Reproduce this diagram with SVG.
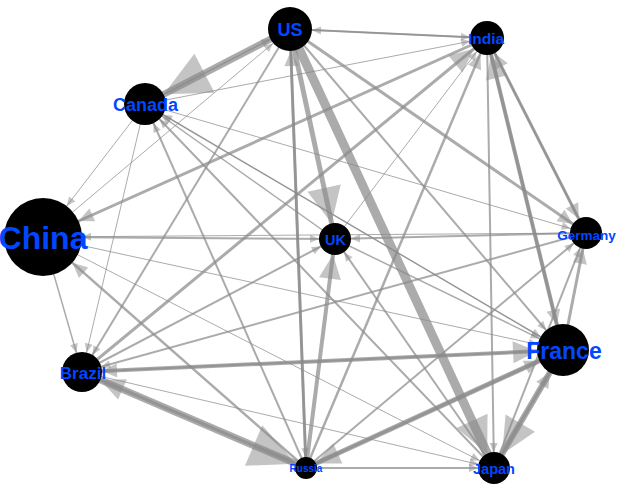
<svg xmlns="http://www.w3.org/2000/svg" width="625" height="495" viewBox="0 0 625 495">
<style>
.e{stroke:#8a8a8a;stroke-opacity:0.72;fill:none;stroke-linecap:butt}
.ah{fill:#8a8a8a;fill-opacity:0.5;stroke:none}
.n{fill:#000}
.l{font-family:"Liberation Sans",Arial,sans-serif;font-weight:bold;fill:#0047ff;text-anchor:middle}
</style>
<defs>
<marker id="s22" markerUnits="userSpaceOnUse" orient="auto" refX="22" refY="0" markerWidth="60" markerHeight="60" overflow="visible"><path class="ah" d="M0,0L-9,-4L-9,4Z"/></marker>
<marker id="m22" markerUnits="userSpaceOnUse" orient="auto" refX="22" refY="0" markerWidth="60" markerHeight="60" overflow="visible"><path class="ah" d="M0,0L-15,-7L-15,7Z"/></marker>
<marker id="s17" markerUnits="userSpaceOnUse" orient="auto" refX="17" refY="0" markerWidth="60" markerHeight="60" overflow="visible"><path class="ah" d="M0,0L-9,-4L-9,4Z"/></marker>
<marker id="m17" markerUnits="userSpaceOnUse" orient="auto" refX="17" refY="0" markerWidth="60" markerHeight="60" overflow="visible"><path class="ah" d="M0,0L-15,-7L-15,7Z"/></marker>
<marker id="l17" markerUnits="userSpaceOnUse" orient="auto" refX="17" refY="0" markerWidth="60" markerHeight="60" overflow="visible"><path class="ah" d="M0,0L-24,-11L-24,11Z"/></marker>
<marker id="s21" markerUnits="userSpaceOnUse" orient="auto" refX="21" refY="0" markerWidth="60" markerHeight="60" overflow="visible"><path class="ah" d="M0,0L-9,-4L-9,4Z"/></marker>
<marker id="xxl21" markerUnits="userSpaceOnUse" orient="auto" refX="21" refY="0" markerWidth="60" markerHeight="60" overflow="visible"><path class="ah" d="M0,0L-46,-22L-46,22Z"/></marker>
<marker id="s39" markerUnits="userSpaceOnUse" orient="auto" refX="39" refY="0" markerWidth="60" markerHeight="60" overflow="visible"><path class="ah" d="M0,0L-9,-4L-9,4Z"/></marker>
<marker id="m39" markerUnits="userSpaceOnUse" orient="auto" refX="39" refY="0" markerWidth="60" markerHeight="60" overflow="visible"><path class="ah" d="M0,0L-15,-7L-15,7Z"/></marker>
<marker id="s16" markerUnits="userSpaceOnUse" orient="auto" refX="16" refY="0" markerWidth="60" markerHeight="60" overflow="visible"><path class="ah" d="M0,0L-9,-4L-9,4Z"/></marker>
<marker id="m16" markerUnits="userSpaceOnUse" orient="auto" refX="16" refY="0" markerWidth="60" markerHeight="60" overflow="visible"><path class="ah" d="M0,0L-15,-7L-15,7Z"/></marker>
<marker id="l16" markerUnits="userSpaceOnUse" orient="auto" refX="16" refY="0" markerWidth="60" markerHeight="60" overflow="visible"><path class="ah" d="M0,0L-24,-11L-24,11Z"/></marker>
<marker id="xl16" markerUnits="userSpaceOnUse" orient="auto" refX="16" refY="0" markerWidth="60" markerHeight="60" overflow="visible"><path class="ah" d="M0,0L-36,-17L-36,17Z"/></marker>
<marker id="s26" markerUnits="userSpaceOnUse" orient="auto" refX="26" refY="0" markerWidth="60" markerHeight="60" overflow="visible"><path class="ah" d="M0,0L-9,-4L-9,4Z"/></marker>
<marker id="m26" markerUnits="userSpaceOnUse" orient="auto" refX="26" refY="0" markerWidth="60" markerHeight="60" overflow="visible"><path class="ah" d="M0,0L-15,-7L-15,7Z"/></marker>
<marker id="l26" markerUnits="userSpaceOnUse" orient="auto" refX="26" refY="0" markerWidth="60" markerHeight="60" overflow="visible"><path class="ah" d="M0,0L-24,-11L-24,11Z"/></marker>
<marker id="s20" markerUnits="userSpaceOnUse" orient="auto" refX="20" refY="0" markerWidth="60" markerHeight="60" overflow="visible"><path class="ah" d="M0,0L-9,-4L-9,4Z"/></marker>
<marker id="m20" markerUnits="userSpaceOnUse" orient="auto" refX="20" refY="0" markerWidth="60" markerHeight="60" overflow="visible"><path class="ah" d="M0,0L-15,-7L-15,7Z"/></marker>
<marker id="l20" markerUnits="userSpaceOnUse" orient="auto" refX="20" refY="0" markerWidth="60" markerHeight="60" overflow="visible"><path class="ah" d="M0,0L-24,-11L-24,11Z"/></marker>
<marker id="s11" markerUnits="userSpaceOnUse" orient="auto" refX="11" refY="0" markerWidth="60" markerHeight="60" overflow="visible"><path class="ah" d="M0,0L-9,-4L-9,4Z"/></marker>
<marker id="l11" markerUnits="userSpaceOnUse" orient="auto" refX="11" refY="0" markerWidth="60" markerHeight="60" overflow="visible"><path class="ah" d="M0,0L-24,-11L-24,11Z"/></marker>
<marker id="xxl11" markerUnits="userSpaceOnUse" orient="auto" refX="11" refY="0" markerWidth="60" markerHeight="60" overflow="visible"><path class="ah" d="M0,0L-46,-22L-46,22Z"/></marker>
</defs>
<rect width="625" height="495" fill="#fff"/>
<g id="edges">
<line class="e" x1="290" y1="29" x2="145" y2="104" stroke-width="7" marker-end="url(#xxl21)"/>
<line class="e" x1="145" y1="104" x2="290" y2="29" stroke-width="1.5" marker-end="url(#s22)"/>
<line class="e" x1="290" y1="29" x2="487" y2="38" stroke-width="2" marker-end="url(#s17)"/>
<line class="e" x1="487" y1="38" x2="290" y2="29" stroke-width="1.5" marker-end="url(#s22)"/>
<line class="e" x1="43" y1="237" x2="290" y2="29" stroke-width="1" marker-end="url(#s22)"/>
<line class="e" x1="290" y1="29" x2="335" y2="239" stroke-width="5" marker-end="url(#xl16)"/>
<line class="e" x1="306" y1="468" x2="290" y2="29" stroke-width="3" marker-end="url(#m22)"/>
<line class="e" x1="290" y1="29" x2="494" y2="468" stroke-width="9" marker-end="url(#xl16)"/>
<line class="e" x1="290" y1="29" x2="586" y2="233" stroke-width="3" marker-end="url(#m16)"/>
<line class="e" x1="290" y1="29" x2="563" y2="350" stroke-width="2" marker-end="url(#s26)"/>
<line class="e" x1="290" y1="29" x2="306" y2="468" stroke-width="2.5" marker-end="url(#s11)"/>
<line class="e" x1="290" y1="29" x2="82" y2="372" stroke-width="2" marker-end="url(#s20)"/>
<line class="e" x1="487" y1="38" x2="43" y2="237" stroke-width="3" marker-end="url(#m39)"/>
<line class="e" x1="145" y1="104" x2="487" y2="38" stroke-width="1" marker-end="url(#s17)"/>
<line class="e" x1="335" y1="239" x2="487" y2="38" stroke-width="1" marker-end="url(#s17)"/>
<line class="e" x1="487" y1="38" x2="586" y2="233" stroke-width="2" marker-end="url(#m16)"/>
<line class="e" x1="586" y1="233" x2="487" y2="38" stroke-width="3" marker-end="url(#m17)"/>
<line class="e" x1="563" y1="350" x2="487" y2="38" stroke-width="4" marker-end="url(#l17)"/>
<line class="e" x1="487" y1="38" x2="563" y2="350" stroke-width="3" marker-end="url(#m26)"/>
<line class="e" x1="487" y1="38" x2="494" y2="468" stroke-width="2" marker-end="url(#s16)"/>
<line class="e" x1="306" y1="468" x2="487" y2="38" stroke-width="2.5" marker-end="url(#m17)"/>
<line class="e" x1="82" y1="372" x2="487" y2="38" stroke-width="3" marker-end="url(#l17)"/>
<line class="e" x1="145" y1="104" x2="43" y2="237" stroke-width="1" marker-end="url(#s39)"/>
<line class="e" x1="145" y1="104" x2="82" y2="372" stroke-width="1" marker-end="url(#s20)"/>
<line class="e" x1="145" y1="104" x2="586" y2="233" stroke-width="1" marker-end="url(#s16)"/>
<line class="e" x1="494" y1="468" x2="145" y2="104" stroke-width="2" marker-end="url(#s21)"/>
<line class="e" x1="563" y1="350" x2="145" y2="104" stroke-width="1.5" marker-end="url(#s21)"/>
<line class="e" x1="306" y1="468" x2="145" y2="104" stroke-width="2" marker-end="url(#s21)"/>
<line class="e" x1="335" y1="239" x2="145" y2="104" stroke-width="1.5" marker-end="url(#s21)"/>
<line class="e" x1="43" y1="237" x2="82" y2="372" stroke-width="1.5" marker-end="url(#s20)"/>
<line class="e" x1="43" y1="237" x2="335" y2="239" stroke-width="2" marker-end="url(#s16)"/>
<line class="e" x1="586" y1="233" x2="43" y2="237" stroke-width="1" marker-end="url(#s39)"/>
<line class="e" x1="43" y1="237" x2="563" y2="350" stroke-width="1" marker-end="url(#s26)"/>
<line class="e" x1="306" y1="468" x2="43" y2="237" stroke-width="2.5" marker-end="url(#m39)"/>
<line class="e" x1="43" y1="237" x2="494" y2="468" stroke-width="1" marker-end="url(#s16)"/>
<line class="e" x1="82" y1="372" x2="563" y2="350" stroke-width="4" marker-end="url(#l26)"/>
<line class="e" x1="563" y1="350" x2="82" y2="372" stroke-width="2" marker-end="url(#m20)"/>
<line class="e" x1="82" y1="372" x2="306" y2="468" stroke-width="7" marker-end="url(#xxl11)"/>
<line class="e" x1="306" y1="468" x2="82" y2="372" stroke-width="3" marker-end="url(#l20)"/>
<line class="e" x1="586" y1="233" x2="82" y2="372" stroke-width="2" marker-end="url(#s20)"/>
<line class="e" x1="82" y1="372" x2="335" y2="239" stroke-width="2" marker-end="url(#s16)"/>
<line class="e" x1="82" y1="372" x2="494" y2="468" stroke-width="1" marker-end="url(#s16)"/>
<line class="e" x1="306" y1="468" x2="335" y2="239" stroke-width="4" marker-end="url(#l16)"/>
<line class="e" x1="306" y1="468" x2="494" y2="468" stroke-width="2" marker-end="url(#s16)"/>
<line class="e" x1="563" y1="350" x2="306" y2="468" stroke-width="5" marker-end="url(#l11)"/>
<line class="e" x1="306" y1="468" x2="563" y2="350" stroke-width="3" marker-end="url(#m26)"/>
<line class="e" x1="306" y1="468" x2="586" y2="233" stroke-width="2" marker-end="url(#s16)"/>
<line class="e" x1="586" y1="233" x2="335" y2="239" stroke-width="2" marker-end="url(#s16)"/>
<line class="e" x1="494" y1="468" x2="335" y2="239" stroke-width="2" marker-end="url(#s16)"/>
<line class="e" x1="335" y1="239" x2="563" y2="350" stroke-width="1.5" marker-end="url(#s26)"/>
<line class="e" x1="563" y1="350" x2="586" y2="233" stroke-width="3" marker-end="url(#m16)"/>
<line class="e" x1="494" y1="468" x2="586" y2="233" stroke-width="2" marker-end="url(#s16)"/>
<line class="e" x1="563" y1="350" x2="494" y2="468" stroke-width="6" marker-end="url(#xl16)"/>
<line class="e" x1="494" y1="468" x2="563" y2="350" stroke-width="3" marker-end="url(#m26)"/>
<line class="e" x1="145" y1="104" x2="563" y2="350" stroke-width="1" marker-end="url(#s26)"/>
</g>
<g id="node-US"><circle class="n" cx="290" cy="29" r="22"/><text class="l" x="290" y="36" font-size="18">US</text></g>
<g id="node-India"><circle class="n" cx="487" cy="38" r="17"/><text class="l" x="486" y="44" font-size="15.5">India</text></g>
<g id="node-Canada"><circle class="n" cx="145" cy="104" r="21"/><text class="l" x="145.5" y="111" font-size="18">Canada</text></g>
<g id="node-China"><circle class="n" cx="43" cy="237" r="39"/><text class="l" x="43" y="249" font-size="32">China</text></g>
<g id="node-UK"><circle class="n" cx="335" cy="239" r="16"/><text class="l" x="335.5" y="244.5" font-size="14.5">UK</text></g>
<g id="node-Germany"><circle class="n" cx="586" cy="233" r="16"/><text class="l" x="586.5" y="240" font-size="13.5">Germany</text></g>
<g id="node-France"><circle class="n" cx="563" cy="350" r="26"/><text class="l" x="564" y="359" font-size="23">France</text></g>
<g id="node-Brazil"><circle class="n" cx="82" cy="372" r="20"/><text class="l" x="83" y="378.5" font-size="17">Brazil</text></g>
<g id="node-Russia"><circle class="n" cx="306" cy="468" r="11"/><text class="l" x="306" y="471.5" font-size="10">Russia</text></g>
<g id="node-Japan"><circle class="n" cx="494" cy="468" r="16"/><text class="l" x="494" y="474" font-size="14.5">Japan</text></g>
</svg>
